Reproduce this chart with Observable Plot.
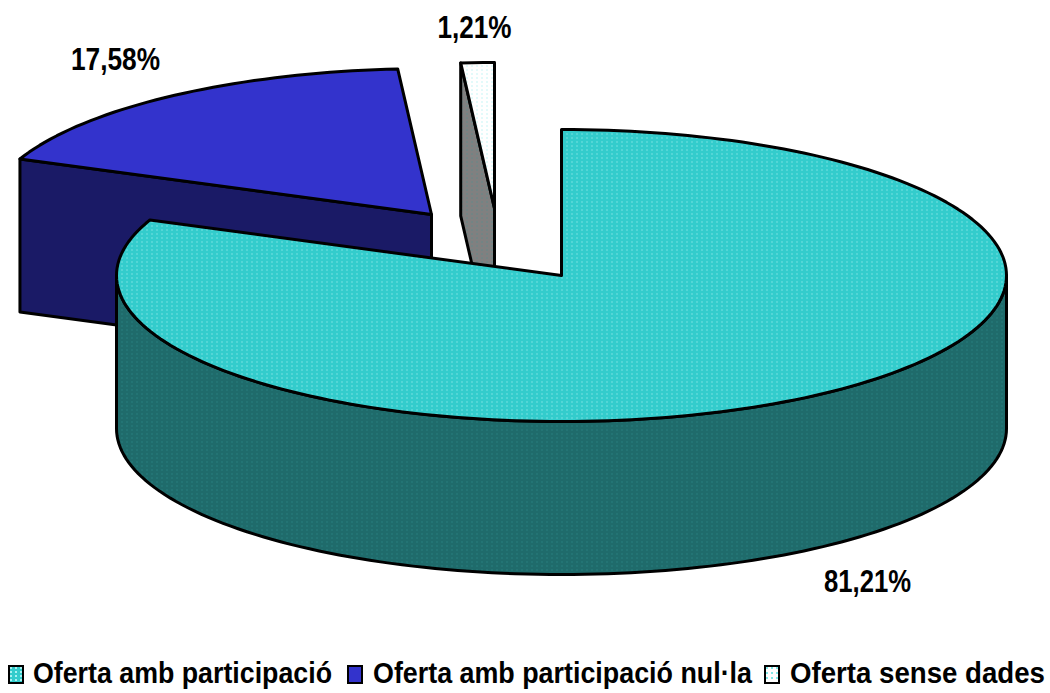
<!DOCTYPE html>
<html><head><meta charset="utf-8">
<style>
html,body{margin:0;padding:0;background:#fff;overflow:hidden}
#chart{position:absolute;left:0;top:0;width:1050px;height:650px}
#chart svg{display:block}
#legend{position:absolute;left:0;top:650px;width:1050px;height:43px;font:bold 29px "Liberation Sans",Arial,sans-serif;color:#000}
.sw{position:absolute;top:15px;width:12px;height:15px;border:2.5px solid #000;box-sizing:content-box}
.lb{position:absolute;top:6px;line-height:34px;white-space:nowrap;transform-origin:0 50%}
</style></head>
<body>
<div id="chart"></div>
<div id="legend"></div>
<script src="https://cdn.jsdelivr.net/npm/d3@7"></script>
<script src="https://cdn.jsdelivr.net/npm/@observablehq/plot@0.6"></script>
<script>
// --- data ---
const categories = ["Oferta amb participació", "Oferta amb participació nul·la", "Oferta sense dades"];
const shares = [81.21, 17.58, 1.21];
const labels = ["81,21%", "17,58%", "1,21%"];

// --- styles and layout ---
const topFills = ["url(#dotTeal)", "#3333cc", "url(#dotWhite)"];
const sideFills = ["url(#dotDark)", "#1a1a66", "url(#dotGrey)"];
const swatchCss = [
  "radial-gradient(circle at 1px 1px,#a8f2f2 1px,transparent 1px) 0 0/5px 4px #33cccc",
  "#3333cc",
  "radial-gradient(circle at 1px 1px,#80e8e8 1px,transparent 1px) 0 0/5px 5px #ffffff"
];
const W = 1050, H = 650;
const cx = 561, cy = 275, rx = 445, ry = 146;   // main ellipse, pixels
const depth = 153 / ry;                          // in radius units
// explosion of each slice, in radius units
const offsets = [[0, 0], [-130 / rx, 61 / ry], [-67 / rx, 67 / ry]];
const labelAt = [[306 / rx, -306 / ry], [-446 / rx, 216 / ry], [-87 / rx, 248 / ry]];
const labelWidth = [87, 89, 74];
const legendX = [[8, 33, 299], [347, 373, 379], [764, 790, 255]];

// --- geometry from the shares ---
const rad = Math.PI / 180;
const total = d3.sum(shares);
let acc = 0;
const slices = shares.map((v, i) => {
  const a0 = acc / total * 360; acc += v; const a1 = acc / total * 360;
  return {i, a0, a1, off: offsets[i]};
});
const rim = (s, a, dz = 0) => ({x: s.off[0] + Math.sin(a * rad), y: s.off[1] + Math.cos(a * rad) - dz});
const apex = (s, dz = 0) => ({x: s.off[0], y: s.off[1] - dz});
const arc = (s, a0, a1, dz = 0) => {
  const n = Math.max(2, Math.ceil(Math.abs(a1 - a0) / 1.5));
  return d3.range(n + 1).map(k => rim(s, a0 + (a1 - a0) * k / n, dz));
};
const closed = pts => [...pts, pts[0]];
const topFace = s => closed([apex(s), ...arc(s, s.a0, s.a1)]);
const frontSide = s => closed([...arc(s, 90, 270), ...arc(s, 270, 90, depth)]);
const cutFace = (s, a) => closed([rim(s, a), apex(s), apex(s, depth), rim(s, a, depth)]);

const face = (pts, fill) => Plot.line(pts, {
  x: "x", y: "y", fill, stroke: "#000", strokeWidth: 3, strokeLinejoin: "round", curve: "linear"
});
const [main, blue, white] = slices;

const plot = Plot.plot({
  width: W, height: H, margin: 0,
  x: {domain: [-cx / rx, (W - cx) / rx], range: [0, W], axis: null},
  y: {domain: [cy / ry, (cy - H) / ry], range: [0, H], axis: null},
  marks: [
    face(cutFace(blue, blue.a0), sideFills[1]),
    face(topFace(blue), topFills[1]),
    face(cutFace(white, white.a0), sideFills[2]),
    face(topFace(white), topFills[2]),
    face(frontSide(main), sideFills[0]),
    face(topFace(main), topFills[0]),
    Plot.text(labels, {
      x: (d, i) => labelAt[i][0], y: (d, i) => labelAt[i][1], text: d => d,
      fontSize: 32, fontWeight: "bold", fontFamily: '"Liberation Sans",Arial,sans-serif',
      fill: "#000", textAnchor: "middle"
    })
  ]
});

// squeeze the labels to the reference's condensed width
plot.querySelectorAll("text").forEach(t => {
  const i = labels.indexOf(t.textContent);
  if (i >= 0) { t.setAttribute("textLength", labelWidth[i]); t.setAttribute("lengthAdjust", "spacingAndGlyphs"); }
});

// dot textures
const defs = document.createElementNS("http://www.w3.org/2000/svg", "defs");
const pat = (id, bg, dot) => `<pattern id="${id}" patternUnits="userSpaceOnUse" width="5" height="4">
<rect width="5" height="4" fill="${bg}"/><rect x="1" y="1" width="1" height="1" fill="${dot}"/></pattern>`;
defs.innerHTML = pat("dotTeal", "#33cccc", "#b4f5f5") + pat("dotDark", "#1f6b6b", "#2f9090")
  + pat("dotWhite", "#ffffff", "#90ecec") + pat("dotGrey", "#808080", "#4a9090");
plot.insertBefore(defs, plot.firstChild);
document.getElementById("chart").appendChild(plot);

// legend
const lg = document.getElementById("legend");
categories.forEach((c, i) => {
  const sw = document.createElement("span"); sw.className = "sw";
  sw.style.left = legendX[i][0] + "px"; sw.style.background = swatchCss[i];
  const lb = document.createElement("span"); lb.className = "lb";
  lb.style.left = legendX[i][1] + "px"; lb.textContent = c;
  lg.append(sw, lb);
  lb.style.transform = `scaleX(${legendX[i][2] / lb.getBoundingClientRect().width})`;
});
</script>
</body></html>
